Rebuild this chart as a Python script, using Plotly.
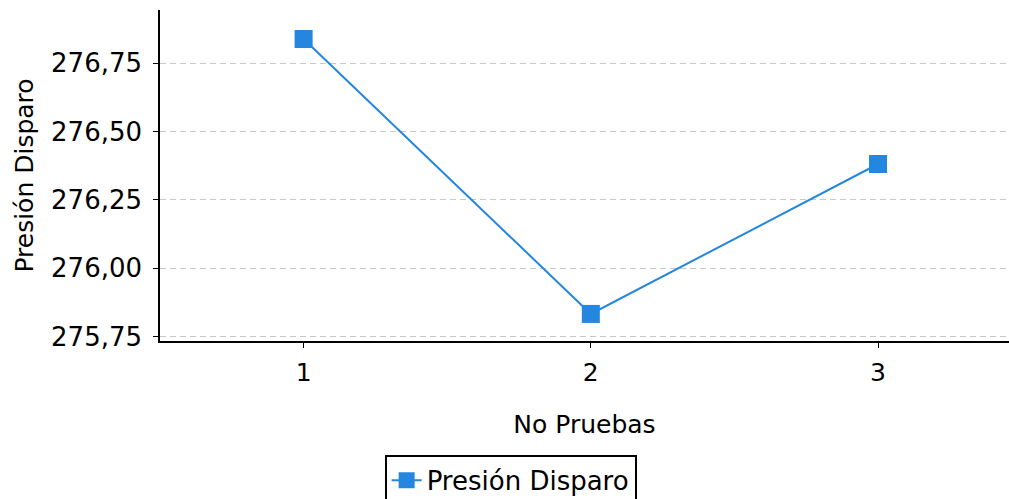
import plotly.graph_objects as go

pruebas = [1, 2, 3]
presion = [276.838, 275.833, 276.381]
y_ticks = [275.75, 276.00, 276.25, 276.50, 276.75]
x_ticks = [1, 2, 3]

color = "#2386DF"
font = "DejaVu Sans, Verdana, sans-serif"

fig = go.Figure()
fig.add_trace(go.Scatter(
    x=pruebas, y=presion, mode="lines+markers", name="Presión Disparo",
    line=dict(color=color, width=2),
    marker=dict(symbol="square", size=18, color=color),
))

fig.update_layout(
    width=1009, height=499,
    margin=dict(l=160, r=0, t=10, b=158, autoexpand=False),
    paper_bgcolor="white", plot_bgcolor="white",
    separators=",.",
    font=dict(family=font, size=24, color="black"),
    showlegend=True,
    legend=dict(
        orientation="h", x=0.413, xanchor="center", y=-0.344, yanchor="top",
        bordercolor="black", borderwidth=2, font=dict(size=26),
    ),
    xaxis=dict(
        range=[0.5, 3.456], tickvals=x_ticks, ticktext=[str(v) for v in x_ticks],
        showgrid=False, zeroline=False, showline=True, linecolor="black", linewidth=1.5,
        ticks="outside", ticklen=5, tickcolor="black", tickfont=dict(size=25),
        ticklabelstandoff=3, automargin=False,
        title=dict(text="No Pruebas", font=dict(size=25), standoff=30),
    ),
    yaxis=dict(
        range=[275.734, 276.944], tickvals=y_ticks, tickformat=".2f",
        showgrid=True, gridcolor="#c8c8c8", griddash="6px,4px", gridwidth=1,
        zeroline=False, showline=True, linecolor="black", linewidth=1.5,
        ticks="outside", ticklen=5, tickcolor="black", tickfont=dict(size=26),
        ticklabelstandoff=6, automargin=False,
        title=dict(text="Presión Disparo", font=dict(size=25), standoff=10),
    ),
)

fig.write_html(
    "out.html",
    config={"displayModeBar": False},
    post_script="document.body.style.margin='0';document.body.style.overflow='hidden';",
)
